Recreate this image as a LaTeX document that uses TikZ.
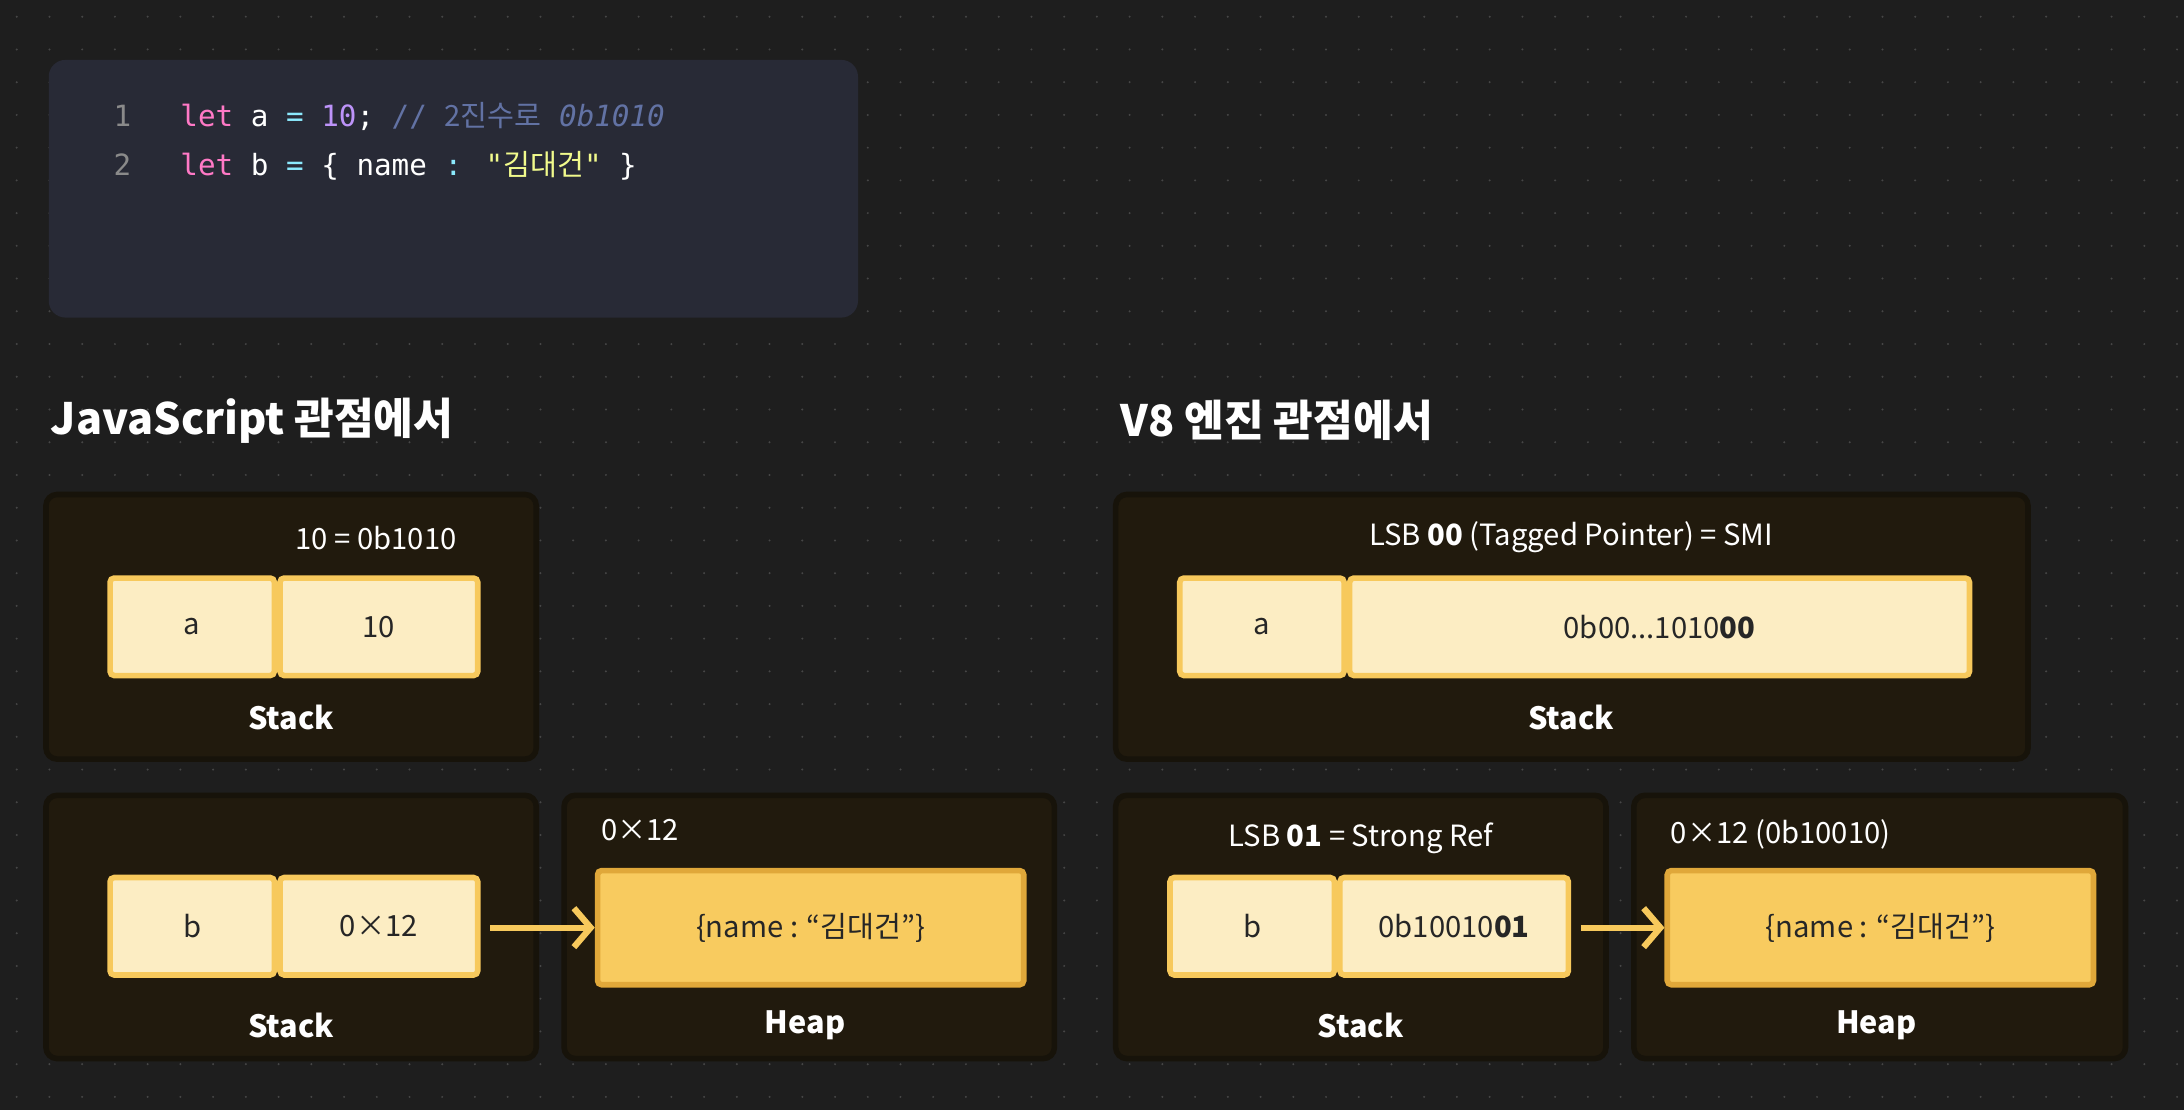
\documentclass[tikz,border=0pt]{standalone}
\usepackage{fontspec}
\setmainfont{Noto Sans CJK KR}
\newfontfamily\codefont{DejaVu Sans Mono}
\newfontfamily\codekr{Noto Sans CJK KR}
\usetikzlibrary{arrows.meta,positioning}
\definecolor{bgc}{HTML}{1E1E1E}
\definecolor{codebg}{HTML}{282A36}
\definecolor{panelc}{HTML}{211A0D}
\definecolor{panelb}{HTML}{17130A}
\definecolor{cellc}{HTML}{FCEDC3}
\definecolor{cellb}{HTML}{F7C95C}
\definecolor{heapc}{HTML}{F8CB5F}
\definecolor{heapb}{HTML}{E0A83A}
\definecolor{kwc}{HTML}{FF79C6}
\definecolor{numc}{HTML}{BD93F9}
\definecolor{opc}{HTML}{8BE9FD}
\definecolor{cmc}{HTML}{6272A4}
\definecolor{strc}{HTML}{F1FA8C}
\definecolor{lnc}{HTML}{8A8A8A}
\begin{document}
\begin{tikzpicture}[x=1pt,y=-1pt,
  panel/.style={draw=panelb,line width=4pt,fill=panelc,rounded corners=8pt},
  cell/.style={draw=cellb,line width=4pt,fill=cellc,rounded corners=3pt,font=\fontsize{21}{24}\selectfont,text=black!85},
  heapcell/.style={draw=heapb,line width=4pt,fill=heapc,rounded corners=3pt,font=\fontsize{21}{24}\selectfont,text=black!85},
  caption/.style={text=white,font=\fontsize{21}{24}\selectfont},
  boxlabel/.style={text=white,font=\bfseries\fontsize{22}{26}\selectfont},
  title/.style={text=white,font=\bfseries\fontsize{31}{36}\selectfont,anchor=west},
  ptr/.style={draw=cellb,line width=4.5pt,-{Straight Barb[length=12pt,width=28pt,line width=4.5pt]}},
  code/.style={anchor=base west,font=\codefont\fontsize{21}{24}\selectfont}]
  \fill[bgc] (0,0) rectangle (1568,797);
  \foreach \i in {0,...,66}
    \foreach \j in {0,...,33}
      \fill[white!18!bgc] (\i*23.5+12,\j*23.5+12) circle (0.8pt);

  % code block
  \fill[codebg,rounded corners=12pt] (35,43) rectangle (616,228);
  \node[code,text=lnc] (ln1) at (78,91) {1};
  \node[code,text=lnc] (ln2) at (78,126) {2};
  \node[code] (code1) at (126,91) {\textcolor{kwc}{let} \textcolor{white}{a} \textcolor{opc}{=} \textcolor{numc}{10}\textcolor{white}{;} \textcolor{cmc}{// {\codekr 2진수로} \itshape 0b1010}};
  \node[code] (code2) at (126,126) {\textcolor{kwc}{let} \textcolor{white}{b} \textcolor{opc}{=} \textcolor{white}{\{ name} \textcolor{opc}{:} \textcolor{strc}{"{\codekr 김대건}"} \textcolor{white}{\}}};

  % titles
  \node[title] (titleJS) at (33,302) {JavaScript 관점에서};
  \node[title] (titleV8) at (801,302) {V8 엔진 관점에서};

  % JavaScript side
  \filldraw[panel] (33,355) rectangle (385,545);
  \filldraw[panel] (33,571) rectangle (385,760);
  \filldraw[panel] (405,571) rectangle (757,760);
  \node[caption] (capA) at (270,386) {10 = 0b1010};
  \node[cell,minimum width=118pt,minimum height=70pt] (cellA) at (138,450) {a};
  \node[cell,minimum width=142pt,minimum height=70pt,right=0pt of cellA] (valA) {10};
  \node[boxlabel] (stackA) at (209,515) {Stack};
  \node[cell,minimum width=118pt,minimum height=70pt] (cellB) at (138,665) {b};
  \node[cell,minimum width=142pt,minimum height=70pt,right=0pt of cellB] (valB) {0×12};
  \node[boxlabel] (stackB) at (209,736) {Stack};
  \node[caption,anchor=west] (addrB) at (428,596) {0×12};
  \node[heapcell,minimum width=306pt,minimum height=82pt] (heapB) at (582,666) {\{name : “김대건"\}};
  \node[boxlabel] (heapLabB) at (578,736) {Heap};
  \draw[ptr] (valB.east) ++(7,1) coordinate (ptrB) -- (heapB.west);

  % V8 side
  \filldraw[panel] (801,355) rectangle (1456,545);
  \filldraw[panel] (801,571) rectangle (1153,760);
  \filldraw[panel] (1173,571) rectangle (1526,760);
  \node[caption] (capV8A) at (1128,386) {LSB \textbf{00} (Tagged Pointer) = SMI};
  \node[cell,minimum width=118pt,minimum height=70pt] (cellV8A) at (906,450) {a};
  \node[cell,minimum width=445pt,minimum height=70pt,right=0pt of cellV8A] (valV8A) {0b00...1010\textbf{00}};
  \node[boxlabel] (stackV8A) at (1128,515) {Stack};
  \node[caption] (capV8B) at (977,602) {LSB \textbf{01} = Strong Ref};
  \node[cell,minimum width=118pt,minimum height=70pt] (cellV8B) at (899,665) {b};
  \node[cell,minimum width=164pt,minimum height=70pt,right=0pt of cellV8B] (valV8B) {0b10010\textbf{01}};
  \node[boxlabel] (stackV8B) at (977,736) {Stack};
  \node[caption,anchor=west] (addrV8B) at (1196,599) {0×12 (0b10010)};
  \node[heapcell,minimum width=306pt,minimum height=82pt] (heapV8B) at (1350,666) {\{name : “김대건"\}};
  \node[boxlabel] (heapLabV8B) at (1347,736) {Heap};
  \draw[ptr] (valV8B.east) ++(7,1) coordinate (ptrV8B) -- (heapV8B.west);
\end{tikzpicture}
\end{document}
